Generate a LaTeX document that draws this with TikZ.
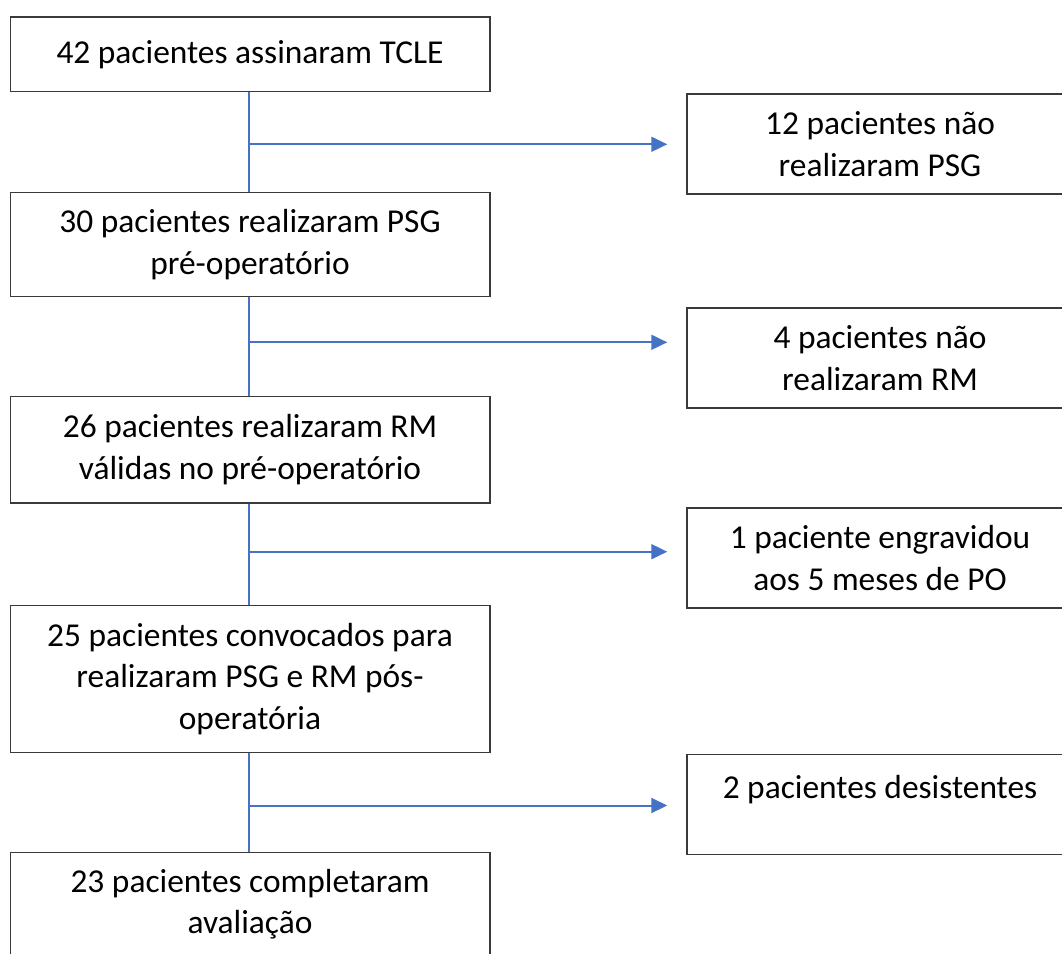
\documentclass[tikz,border=0pt]{standalone}
\usepackage{fontspec}
\setmainfont{Carlito}
\usetikzlibrary{arrows.meta}
\definecolor{lineblue}{HTML}{4472C4}
\definecolor{boxgray}{HTML}{3A3A3A}
\begin{document}
\begin{tikzpicture}[x=1pt,y=-1pt,
  box/.style={draw=boxgray, line width=1.5pt, align=center, inner sep=0pt,
    font=\fontsize{33.4}{41.5}\selectfont, text=black},
  lbox/.style={box, minimum width=479.5pt},
  rbox/.style={box, minimum width=386pt, minimum height=100pt},
  conn/.style={draw=lineblue, line width=2pt},
  arr/.style={conn, -{Triangle[length=16pt,width=15pt]}, shorten >=19pt}]
\useasboundingbox (0,0) rectangle (1062,953);
\node[lbox, minimum height=74.5pt] (b1) at (250,54.3) {42 pacientes assinaram TCLE};
\node[lbox, minimum height=104.3pt] (b2) at (250,244.5) {30 pacientes realizaram PSG\\pré-operatório};
\node[lbox, minimum height=106.5pt] (b3) at (250,449.8) {26 pacientes realizaram RM\\válidas no pré-operatório};
\node[lbox, minimum height=146.6pt] (b4) at (250,679) {25 pacientes convocados para\\realizaram PSG e RM pós-\\operatória};
\node[lbox, minimum height=104pt] (b5) at (250,904.3) {23 pacientes completaram\\avaliação};
\node[rbox] (r1) at (880,144) {12 pacientes não\\realizaram PSG};
\node[rbox] (r2) at (880,358) {4 pacientes não\\realizaram RM};
\node[rbox] (r3) at (880,558) {1 paciente engravidou\\aos 5 meses de PO};
\node[rbox, text height=10pt, text depth=21.5pt] (r4) at (880,804.7) {2 pacientes desistentes};
\coordinate (j1) at (249,144.3);
\coordinate (j2) at (249,342.3);
\coordinate (j3) at (249,551.7);
\coordinate (j4) at (249,805.5);
\draw[conn] (b1.south -| j1) -- (b2.north -| j1);
\draw[conn] (b2.south -| j1) -- (b3.north -| j1);
\draw[conn] (b3.south -| j1) -- (b4.north -| j1);
\draw[conn] (b4.south -| j1) -- (b5.north -| j1);
\draw[arr] (j1) -- (j1 -| r1.west);
\draw[arr] (j2) -- (j2 -| r2.west);
\draw[arr] (j3) -- (j3 -| r3.west);
\draw[arr] (j4) -- (j4 -| r4.west);
\end{tikzpicture}
\end{document}
